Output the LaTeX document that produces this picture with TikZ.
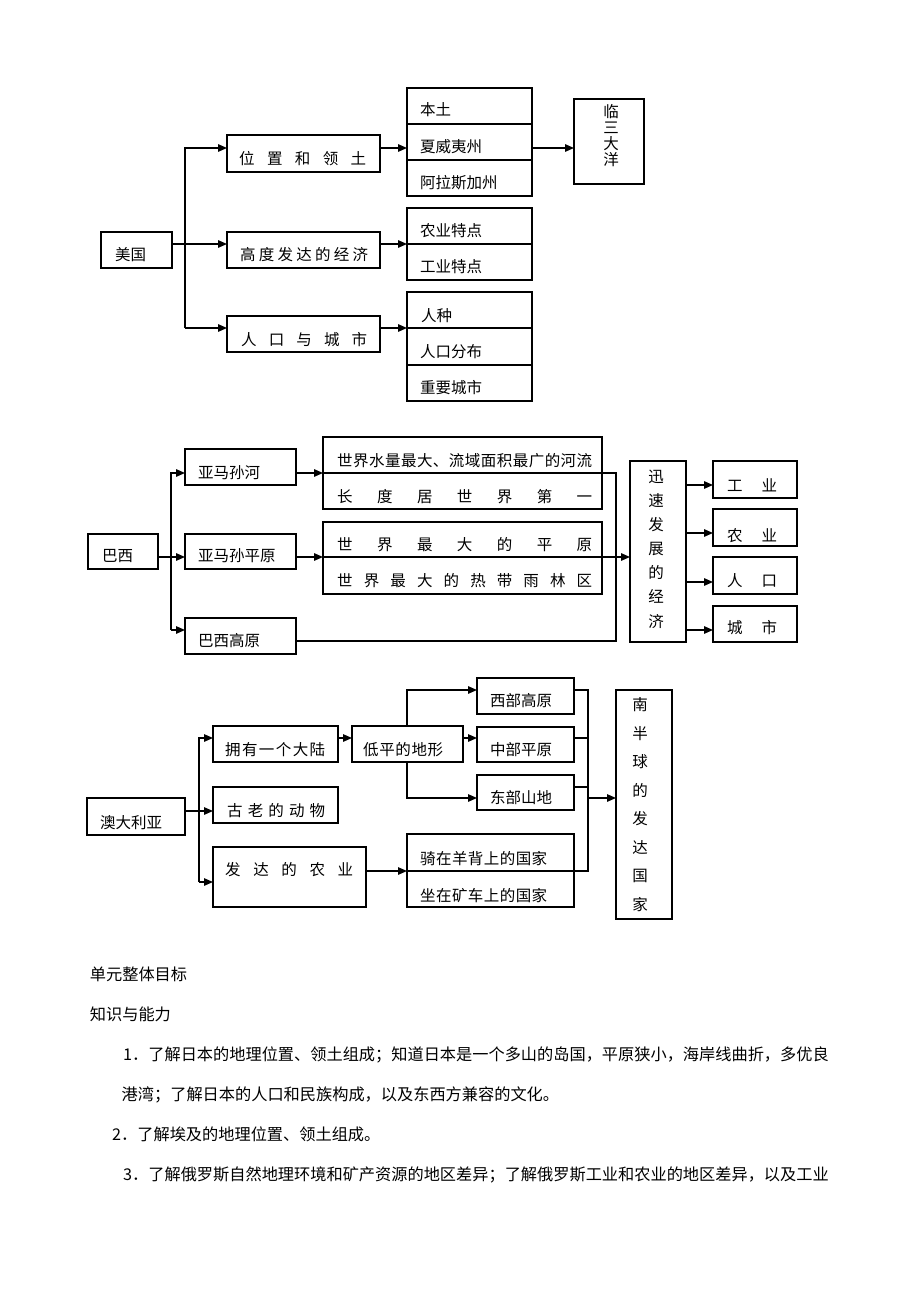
\documentclass[tikz,border=0pt]{standalone}
\usepackage{fontspec}
\setmainfont{Noto Sans CJK SC}
\usetikzlibrary{arrows.meta}
\def\sprx#1{\ifx#1\relax\else#1\expandafter\sprnext\fi}
\def\sprnext#1{\ifx#1\relax\else\hfill#1\expandafter\sprnext\fi}
\newcommand\spr[2]{\makebox[#1][s]{\sprx#2\relax}}
\newcommand\bx[5]{\node[box, minimum width={(#4-#2)*1pt}, minimum height={(#5-#3)*1pt}] (#1) at (#2,#3) {};}
\begin{document}
\begin{tikzpicture}[x=1pt,y=-1pt,
  box/.style={draw, line width=1.4pt, anchor=north west, inner sep=0pt, outer sep=0pt},
  txt/.style={anchor=west, inner sep=0pt, font=\fontsize{15.5}{16}\selectfont, text height=0.88em, text depth=0.12em},
  vtx/.style={anchor=center, inner sep=0pt, font=\fontsize{15.5}{16}\selectfont, text height=0.88em, text depth=0.12em},
  para/.style={anchor=west, inner sep=0pt, font=\fontsize{16.2}{18}\selectfont, text height=0.88em, text depth=0.12em},
  ln/.style={line width=1.4pt, line cap=rect},
  arr/.style={line width=1.4pt, -{Triangle[length=9pt,width=7.5pt]}}]
\fill[white] (0,0) rectangle (920,1302);
\path[use as bounding box] (0,0) rectangle (920,1302);

% ===== USA =====
\bx{us}{101}{232}{172}{268}
\bx{us1}{227}{135}{380}{172}
\bx{us2}{227}{232}{380}{268}
\bx{us3}{227}{316}{380}{352}
\bx{usLa}{407}{88}{532}{124}
\bx{usLb}{407}{124}{532}{160}
\bx{usLc}{407}{160}{532}{196}
\bx{ocean}{574}{99}{644}{184}
\bx{usMa}{407}{208}{532}{244}
\bx{usMb}{407}{244}{532}{280}
\bx{usNa}{407}{292}{532}{328}
\bx{usNb}{407}{328}{532}{365}
\bx{usNc}{407}{365}{532}{401}

\node[txt] (tus) at (115,257) {\spr{30pt}{美国}};
\node[txt] (tus1) at (239,161) {\spr{127pt}{位置和领土}};
\node[txt] (tus2) at (240,257) {\spr{128pt}{高度发达的经济}};
\node[txt] (tus3) at (241,342) {\spr{126pt}{人口与城市}};
\node[txt] (tla) at (420,112) {本土};
\node[txt] (tlb) at (420,148.5) {夏威夷州};
\node[txt] (tlc) at (420,185) {阿拉斯加州};
\node[txt] (tma) at (420,233) {农业特点};
\node[txt] (tmb) at (420,269) {工业特点};
\node[txt] (tna) at (421,318) {人种};
\node[txt] (tnb) at (420,354) {人口分布};
\node[txt] (tnc) at (420,390) {重要城市};
\foreach \c [count=\i] in {临,三,大,洋}
  \node[vtx] (toc\i) at (611,{113.3+16.2*(\i-1)}) {\c};

\coordinate (j1) at (185,148);
\coordinate (j2) at (185,244);
\coordinate (j3) at (185,328);
\draw[arr] (j3) -- (j1) -- (j1 -| us1.west);
\draw[arr] (j2 -| us.east) -- (j2 -| us2.west);
\draw[arr] (j3) -- (j3 -| us3.west);
\draw[arr] (us1.east |- j1) -- (usLb.west |- j1);
\draw[arr] (usLb.east |- j1) -- (ocean.west |- j1);
\draw[arr] (us2.east |- j2) -- (usMa.west |- j2);
\draw[arr] (us3.east |- j3) -- (usNa.west |- j3);

% ===== Brazil =====
\bx{br}{88}{534}{158}{569}
\bx{br1}{185}{449}{296}{485}
\bx{br2}{185}{534}{296}{569}
\bx{br3}{185}{618}{296}{654}
\bx{brAa}{323}{437}{602}{473}
\bx{brAb}{323}{473}{602}{509}
\bx{brBa}{323}{522}{602}{557}
\bx{brBb}{323}{557}{602}{594}
\bx{econ}{630}{461}{686}{642}
\bx{o1}{713}{461}{797}{498}
\bx{o2}{713}{509}{797}{546}
\bx{o3}{713}{557}{797}{594}
\bx{o4}{713}{606}{797}{642}

\node[txt] (tbr) at (102,558) {巴西};
\node[txt] (tbr1) at (198,475) {亚马孙河};
\node[txt] (tbr2) at (198,558) {亚马孙平原};
\node[txt] (tbr3) at (198,643) {巴西高原};
\node[txt] (tAa) at (337,463) {\spr{255pt}{世界水量最大、流域面积最广的河流}};
\node[txt] (tAb) at (337,499) {\spr{255pt}{长度居世界第一}};
\node[txt] (tBa) at (337,547) {\spr{255pt}{世界最大的平原}};
\node[txt] (tBb) at (337,583) {\spr{255pt}{世界最大的热带雨林区}};
\foreach \c [count=\i] in {迅,速,发,展,的,经,济}
  \node[vtx] (tec\i) at (656,{478.3+24.15*(\i-1)}) {\c};
\node[txt] (to1) at (727,488) {\spr{50pt}{工业}};
\node[txt] (to2) at (727,538) {\spr{50pt}{农业}};
\node[txt] (to3) at (727,583) {\spr{50pt}{人口}};
\node[txt] (to4) at (727,630) {\spr{50pt}{城市}};

\coordinate (b1) at (171,473);
\coordinate (b2) at (171,557);
\coordinate (b3) at (171,630);
\coordinate (b4) at (616,641);
\draw[arr] (b3) -- (b1) -- (b1 -| br1.west);
\draw[arr] (b2 -| br.east) -- (b2 -| br2.west);
\draw[arr] (b3) -- (b3 -| br3.west);
\draw[arr] (br1.east |- b1) -- (brAa.west |- b1);
\draw[arr] (br2.east |- b2) -- (brBa.west |- b2);
\draw[arr] (brBa.east |- b2) -- (econ.west |- b2);
\draw[ln] (br3.east |- b4) -- (b4) -- (b4 |- b1) -- (brAa.east |- b1);
\coordinate (e1) at (0,485);
\coordinate (e2) at (0,533);
\coordinate (e3) at (0,582);
\coordinate (e4) at (0,630);
\draw[arr] (econ.east |- e1) -- (o1.west |- e1);
\draw[arr] (econ.east |- e2) -- (o2.west |- e2);
\draw[arr] (econ.east |- e3) -- (o3.west |- e3);
\draw[arr] (econ.east |- e4) -- (o4.west |- e4);

% ===== Australia =====
\bx{au}{87}{798}{185}{835}
\bx{a1}{213}{726}{338}{762}
\bx{a2}{213}{787}{338}{823}
\bx{a3}{213}{847}{366}{907}
\bx{low}{352}{726}{463}{762}
\bx{w}{477}{678}{574}{714}
\bx{c}{477}{727}{574}{762}
\bx{e}{477}{775}{574}{810}
\bx{auLa}{407}{834}{574}{871}
\bx{auLb}{407}{871}{574}{907}
\bx{south}{616}{690}{672}{919}

\node[txt] (tau) at (100,825) {澳大利亚};
\node[txt] (ta1) at (225,752) {\spr{100pt}{拥有一个大陆}};
\node[txt] (ta2) at (227,813) {\spr{98pt}{古老的动物}};
\node[txt] (ta3) at (225,872) {\spr{128pt}{发达的农业}};
\node[txt] (tlow) at (363,752) {\spr{80pt}{低平的地形}};
\node[txt] (tw) at (490,703) {西部高原};
\node[txt] (tc) at (490,752) {中部平原};
\node[txt] (te) at (490,800) {东部山地};
\node[txt] (tLa) at (420,861) {\spr{127pt}{骑在羊背上的国家}};
\node[txt] (tLb) at (420,898) {\spr{127pt}{坐在矿车上的国家}};
\foreach \c [count=\i] in {南,半,球,的,发,达,国,家}
  \node[vtx] (tso\i) at (640,{706.7+28.57*(\i-1)}) {\c};

\coordinate (t1) at (199,738);
\coordinate (t2) at (199,811);
\coordinate (t3) at (199,882);
\coordinate (t4) at (0,871);
\coordinate (t5) at (0,787);
\coordinate (v1) at (407,690);
\coordinate (v2) at (407,798);
\coordinate (cx1) at (588,690);
\coordinate (cx2) at (588,871);
\coordinate (cx3) at (588,798);
\draw[arr] (t3) -- (t1) -- (t1 -| a1.west);
\draw[arr] (t2 -| au.east) -- (t2 -| a2.west);
\draw[arr] (t3) -- (t3 -| a3.west);
\draw[arr] (a1.east |- t1) -- (low.west |- t1);
\draw[arr] (low.north -| v1) -- (v1) -- (v1 -| w.west);
\draw[arr] (low.east |- t1) -- (c.west |- t1);
\draw[arr] (low.south -| v2) -- (v2) -- (v2 -| e.west);
\draw[arr] (a3.east |- t4) -- (auLa.west |- t4);
\draw[ln] (w.east |- cx1) -- (cx1) -- (cx2) -- (auLa.east |- cx2);
\draw[ln] (c.east |- t1) -- (cx1 |- t1);
\draw[ln] (e.east |- t5) -- (cx1 |- t5);
\draw[arr] (cx3) -- (cx3 -| south.west);

% ===== Text =====
\node[para] (h1) at (89.7,977) {单元整体目标};
\node[para] (h2) at (89.7,1017) {知识与能力};
\node[para] (p1) at (123,1057) {1．了解日本的地理位置、领土组成；知道日本是一个多山的岛国，平原狭小，海岸线曲折，多优良};
\node[para] (p1b) at (121.5,1097) {港湾；了解日本的人口和民族构成，以及东西方兼容的文化。};
\node[para] (p2) at (112,1137) {2．了解埃及的地理位置、领土组成。};
\node[para] (p3) at (123,1177) {3．了解俄罗斯自然地理环境和矿产资源的地区差异；了解俄罗斯工业和农业的地区差异，以及工业};
\end{tikzpicture}
\end{document}
